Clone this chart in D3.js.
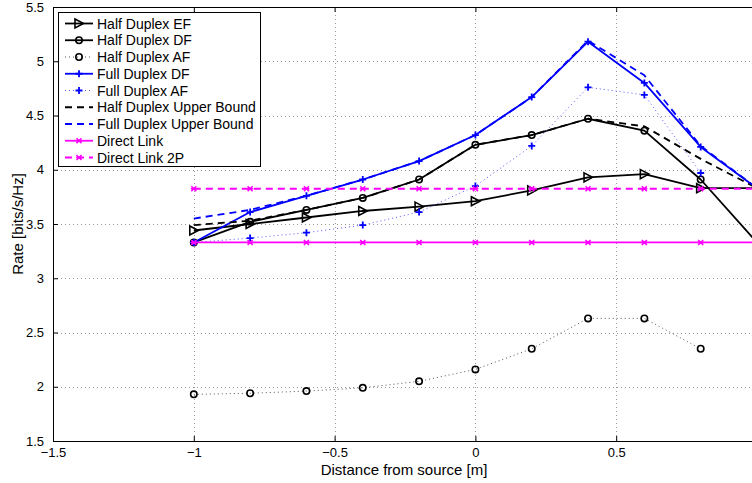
<!DOCTYPE html>
<html>
<head>
<meta charset="utf-8">
<script src="https://cdn.jsdelivr.net/npm/d3@7"></script>
<style>
html,body{margin:0;padding:0;background:#fff;overflow:hidden;}
svg{display:block;font-family:"Liberation Sans",Arial,Helvetica,sans-serif;}
</style>
</head>
<body>
<svg id="chart" width="752" height="483"></svg>
<script>
// ---- data ----
const distances = [-1, -0.8, -0.6, -0.4, -0.2, 0, 0.2, 0.4, 0.6, 0.8, 1];
const halfDuplexEF = [3.44, 3.50, 3.56, 3.62, 3.66, 3.71, 3.81, 3.93, 3.96, 3.83, 3.83];
const halfDuplexDF = [3.33, 3.52, 3.63, 3.74, 3.91, 4.23, 4.32, 4.47, 4.36, 3.91, 3.33];
const halfDuplexAF = [1.93, 1.94, 1.96, 1.99, 2.05, 2.16, 2.35, 2.63, 2.63, 2.35, null];
const fullDuplexDF = [3.33, 3.61, 3.76, 3.91, 4.08, 4.32, 4.67, 5.18, 4.80, 4.21, 3.83];
const fullDuplexAF = [3.33, 3.37, 3.42, 3.49, 3.61, 3.85, 4.22, 4.76, 4.69, 3.97, null];
const halfDuplexUB = [3.49, 3.53, 3.63, 3.74, 3.91, 4.23, 4.32, 4.47, 4.40, 4.10, 3.83];
const fullDuplexUB = [3.55, 3.63, 3.76, 3.91, 4.08, 4.32, 4.67, 5.19, 4.87, 4.22, 3.83];
const directLink   = [3.33, 3.33, 3.33, 3.33, 3.33, 3.33, 3.33, 3.33, 3.33, 3.33, 3.33];
const directLink2P = [3.825, 3.825, 3.825, 3.825, 3.825, 3.825, 3.825, 3.825, 3.825, 3.825, 3.825];
const xTicks = [-1.5, -1, -0.5, 0, 0.5];
const yTicks = [1.5, 2, 2.5, 3, 3.5, 4, 4.5, 5, 5.5];
const seriesNames = ["Half Duplex EF", "Half Duplex DF", "Half Duplex AF", "Full Duplex DF",
  "Full Duplex AF", "Half Duplex Upper Bound", "Full Duplex Upper Bound", "Direct Link", "Direct Link 2P"];

// ---- styles ----
const series = [
  {name: seriesNames[0], values: halfDuplexEF, color: "#000", width: 1.8, dash: null, marker: "tri"},
  {name: seriesNames[1], values: halfDuplexDF, color: "#000", width: 1.8, dash: null, marker: "circle"},
  {name: seriesNames[2], values: halfDuplexAF, color: "#000", width: 1, dash: "1,3", marker: "circle", lineColor: "#555"},
  {name: seriesNames[3], values: fullDuplexDF, color: "#0000ff", width: 1.8, dash: null, marker: "plus"},
  {name: seriesNames[4], values: fullDuplexAF, color: "#0000ff", width: 1, dash: "1,3", marker: "plus", lineColor: "#5555ff"},
  {name: seriesNames[5], values: halfDuplexUB, color: "#000", width: 1.8, dash: "7,5", marker: null},
  {name: seriesNames[6], values: fullDuplexUB, color: "#0000ff", width: 1.8, dash: "7,5", marker: null},
  {name: seriesNames[7], values: directLink, color: "#ff00ff", width: 1.8, dash: null, marker: "x"},
  {name: seriesNames[8], values: directLink2P, color: "#ff00ff", width: 1.8, dash: "7,5", marker: "x"}
];

const L = 53, T = 7, B = 441;
const xScale = d3.scaleLinear().domain([-1.5, 1]).range([L, L + 2.5 * 281.6]);
const yScale = d3.scaleLinear().domain([1.5, 5.5]).range([B, T]);
const R = xScale(1);

const svg = d3.select("#chart");
const plot = svg.append("g");

// grid
const grid = plot.append("g").attr("stroke", "#999").attr("stroke-width", 1).attr("stroke-dasharray", "1,3");
grid.selectAll("line.gx").data(xTicks.filter(t => t > -1.5 && t < 1)).enter().append("line")
  .attr("x1", d => Math.round(xScale(d)) + 0.5).attr("x2", d => Math.round(xScale(d)) + 0.5)
  .attr("y1", T).attr("y2", B);
grid.selectAll("line.gy").data(yTicks.filter(t => t > 1.5 && t < 5.5)).enter().append("line")
  .attr("y1", d => Math.round(yScale(d)) + 0.5).attr("y2", d => Math.round(yScale(d)) + 0.5)
  .attr("x1", L).attr("x2", R);

// axes
const fmt = d => (d < 0 ? "\u2212" + Math.abs(d) : String(d));
const xAxisB = d3.axisBottom(xScale).tickValues(xTicks).tickSizeInner(-5).tickSizeOuter(0).tickPadding(7).tickFormat(fmt);
const xAxisT = d3.axisTop(xScale).tickValues(xTicks).tickSizeInner(-5).tickSizeOuter(0).tickFormat("");
const yAxisL = d3.axisLeft(yScale).tickValues(yTicks).tickSizeInner(-5).tickSizeOuter(0).tickPadding(9).tickFormat(d => String(d));
const yAxisR = d3.axisRight(yScale).tickValues(yTicks).tickSizeInner(-5).tickSizeOuter(0).tickFormat("");

function styleAxis(g) {
  g.selectAll("path").attr("stroke", "#000").attr("stroke-width", 1);
  g.selectAll("line").attr("stroke", "#000");
  g.selectAll("text").attr("font-size", 13).attr("fill", "#000").attr("font-family", "Liberation Sans, Arial, sans-serif");
}
plot.append("g").attr("transform", `translate(0,${B})`).call(xAxisB).call(styleAxis);
plot.append("g").attr("transform", `translate(0,${T})`).call(xAxisT).call(styleAxis);
plot.append("g").attr("transform", `translate(${L},0)`).call(yAxisL).call(styleAxis);
plot.append("g").attr("transform", `translate(${R},0)`).call(yAxisR).call(styleAxis);

// lines
const line = d3.line().defined(d => d[1] != null).x(d => xScale(d[0])).y(d => yScale(d[1]));

function drawMarker(g, type, x, y, color) {
  if (type === "tri") {
    g.append("path").attr("d", `M${x - 4},${y - 4.5}L${x + 4.5},${y}L${x - 4},${y + 4.5}Z`)
      .attr("fill", "none").attr("stroke", color).attr("stroke-width", 1.6);
  } else if (type === "circle") {
    g.append("circle").attr("cx", x).attr("cy", y).attr("r", 3.2)
      .attr("fill", "none").attr("stroke", color).attr("stroke-width", 1.6);
  } else if (type === "plus") {
    g.append("path").attr("d", `M${x - 3.5},${y}H${x + 3.5}M${x},${y - 3.5}V${y + 3.5}`)
      .attr("stroke", color).attr("stroke-width", 1.8);
  } else if (type === "x") {
    g.append("path").attr("d", `M${x - 2.5},${y - 2.5}L${x + 2.5},${y + 2.5}M${x - 2.5},${y + 2.5}L${x + 2.5},${y - 2.5}M${x - 3},${y}H${x + 3}`)
      .attr("stroke", color).attr("stroke-width", 1.6);
  }
}

series.forEach(s => {
  const pts = distances.map((d, k) => [d, s.values[k]]);
  const g = plot.append("g");
  g.append("path").datum(pts).attr("d", line)
    .attr("fill", "none").attr("stroke", s.lineColor || s.color).attr("stroke-width", s.width)
    .attr("stroke-dasharray", s.dash).attr("stroke-linejoin", "round");
  if (s.marker) pts.filter(p => p[1] != null).forEach(p => drawMarker(g, s.marker, xScale(p[0]), yScale(p[1]), s.color));
});

// axis labels
svg.append("text").attr("x", 404).attr("y", 474.5).attr("text-anchor", "middle")
  .attr("font-size", 15).text("Distance from source [m]");
svg.append("text").attr("transform", `translate(23,${(T + B) / 2}) rotate(-90)`).attr("text-anchor", "middle")
  .attr("font-size", 15).text("Rate [bits/s/Hz]");

// legend
const lg = svg.append("g");
const lx = 58.5, ly = 12.5, lw = 202, rowH = 16.75;
lg.append("rect").attr("x", lx).attr("y", ly).attr("width", lw).attr("height", 154)
  .attr("fill", "#fff").attr("stroke", "#000").attr("stroke-width", 1);
series.forEach((s, i) => {
  const yy = ly + 11 + i * rowH;
  lg.append("line").attr("x1", 65).attr("x2", 93).attr("y1", yy).attr("y2", yy)
    .attr("stroke", s.lineColor || s.color).attr("stroke-width", s.width).attr("stroke-dasharray", s.dash);
  if (s.marker) drawMarker(lg, s.marker, 79, yy, s.color);
  lg.append("text").attr("x", 97).attr("y", yy + 5).attr("font-size", 14).text(s.name);
});
</script>
</body>
</html>
